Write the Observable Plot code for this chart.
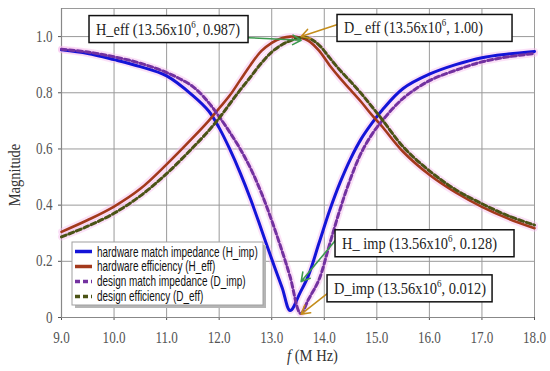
<!DOCTYPE html>
<html><head><meta charset="utf-8">
<script src="https://cdn.jsdelivr.net/npm/d3@7"></script>
<script src="https://cdn.jsdelivr.net/npm/@observablehq/plot@0.6"></script>
<style>
body{margin:0;background:#fff;}
#chart{position:relative;width:550px;height:371px;}
</style>
</head><body><div id="chart"></div>
<script>
// ---- data ----
const freq = [9.0, 9.5, 10.0, 10.5, 11.0, 11.5, 11.8, 12.0, 12.2, 12.4, 12.6, 12.8, 13.0, 13.2, 13.35, 13.55, 13.7, 13.9, 14.1, 14.3, 14.5, 14.7, 14.9, 15.1, 15.5, 16.0, 16.5, 17.0, 17.5, 18.0];
const hImp = [0.953, 0.940, 0.918, 0.893, 0.860, 0.790, 0.735, 0.675, 0.600, 0.515, 0.420, 0.315, 0.208, 0.105, 0.025, 0.092, 0.150, 0.265, 0.380, 0.480, 0.565, 0.635, 0.690, 0.738, 0.815, 0.866, 0.900, 0.925, 0.938, 0.947];
const hEff = [0.305, 0.347, 0.395, 0.458, 0.545, 0.640, 0.700, 0.745, 0.790, 0.845, 0.900, 0.948, 0.978, 0.995, 1.000, 0.996, 0.985, 0.950, 0.898, 0.852, 0.810, 0.768, 0.722, 0.680, 0.590, 0.508, 0.445, 0.394, 0.352, 0.318];
const dImp = [0.955, 0.945, 0.928, 0.905, 0.872, 0.822, 0.765, 0.715, 0.660, 0.600, 0.530, 0.445, 0.345, 0.235, 0.145, 0.014, 0.065, 0.135, 0.260, 0.385, 0.495, 0.585, 0.650, 0.700, 0.780, 0.843, 0.880, 0.910, 0.928, 0.940];
const dEff = [0.287, 0.325, 0.371, 0.433, 0.512, 0.605, 0.665, 0.710, 0.760, 0.810, 0.857, 0.905, 0.945, 0.972, 0.985, 0.997, 0.995, 0.970, 0.925, 0.880, 0.840, 0.798, 0.752, 0.705, 0.608, 0.522, 0.455, 0.405, 0.362, 0.329];

const seriesNames = ["hardware match impedance (H_imp)", "hardware efficiency (H_eff)", "design match impedance (D_imp)", "design efficiency (D_eff)"];
const xTicks = [9, 10, 11, 12, 13, 14, 15, 16, 17, 18];
const yTicks = [0, 0.2, 0.4, 0.6, 0.8, 1.0];

// annotations: label, value at 13.56 MHz
const annNames = ["H_eff", "D_ eff", "H_ imp", "D_imp"];
const annFreqText = "13.56x10";
const annExp = "6";
const annValues = ["0.987", "1.00", "0.128", "0.012"];
const annPointX = [13.56, 13.56, 13.56, 13.56];
const annPointY = [0.987, 1.00, 0.128, 0.012];

// ---- styles / layout (kept separate from data) ----
const styles = [
  {color: "#1414d8", dash: null, width: 3},
  {color: "#a3391c", dash: null, width: 2.6},
  {color: "#7331a0", dash: "5,3", width: 3},
  {color: "#4b5316", dash: "5,3", width: 3}
];
const annBox = [ // x1, x2, yCenter in data units; text width px
  {x1: 9.533, x2: 12.559, yc: 1.025, tw: 144},
  {x1: 14.252, x2: 17.582, yc: 1.029, tw: 139},
  {x1: 14.214, x2: 17.620, yc: 0.2625, tw: 155},
  {x1: 14.062, x2: 17.202, yc: 0.102, tw: 152}
];
const annTail = [[12.559, 0.996], [14.252, 1.043], [14.214, 0.275], [14.062, 0.086]];
const annColor = ["#3d9a4e", "#c48d1c", "#3d9a4e", "#c48d1c"];

const allValues = [hImp, hEff, dImp, dEff];
const data = allValues.flatMap((vals, k) => freq.map((f, i) => ({f, v: vals[i], k})));

const boxH = 0.096;
const boxes = annBox.map((b, i) => ({...b, i}));
const arrows = annTail.map((t, i) => ({x1: t[0], y1: t[1], x2: annPointX[i], y2: annPointY[i], c: annColor[i]}));

const marks = [
  Plot.ruleX(xTicks, {stroke: "#9a9a9a", strokeWidth: 1}),
  Plot.ruleY(yTicks.slice(1), {stroke: "#9a9a9a", strokeWidth: 1}),
  Plot.ruleY([1.1], {stroke: "#9a9a9a", strokeWidth: 1}),
  Plot.ruleX([9], {stroke: "#888", strokeWidth: 1.2}),
  Plot.ruleY([0], {stroke: "#888", strokeWidth: 1.2}),
];
// pink halo under lines
allValues.forEach((vals, k) => {
  marks.push(Plot.line(data.filter(d => d.k === k), {x: "f", y: "v", stroke: "#f6bdee", strokeWidth: 7, strokeOpacity: 0.45, curve: "catmull-rom"}));
});
allValues.forEach((vals, k) => {
  const s = styles[k];
  marks.push(Plot.line(data.filter(d => d.k === k), {x: "f", y: "v", stroke: s.color, strokeWidth: s.width, strokeDasharray: s.dash || undefined, curve: "catmull-rom"}));
});
marks.push(Plot.arrow(arrows, {x1: "x1", y1: "y1", x2: "x2", y2: "y2", stroke: "c", strokeWidth: 1.6, headLength: 9}));
marks.push(Plot.rect(boxes, {x1: "x1", x2: "x2", y1: d => d.yc - boxH/2, y2: d => d.yc + boxH/2, fill: "white", stroke: "#111", strokeWidth: 1.5}));

const plot = Plot.plot({
  width: 550, height: 371,
  marginLeft: 61, marginRight: 16, marginTop: 8, marginBottom: 54,
  style: {fontFamily: "Liberation Serif, serif", fontSize: "16px", color: "#555", background: "white"},
  x: {domain: [9, 18], ticks: xTicks, tickFormat: d => d.toFixed(1), tickSize: 3, tickPadding: 11, label: null},
  y: {domain: [0, 1.1], ticks: yTicks, tickFormat: d => d === 0 ? "0" : d.toFixed(1), tickSize: 3, tickPadding: 6, label: null},
  marks
});
document.getElementById("chart").appendChild(plot);

const svg = d3.select(plot);
// compress tick labels horizontally
svg.selectAll("text").each(function() {
  const w = this.getComputedTextLength();
  if (w > 0) { this.setAttribute("textLength", (w * 0.82).toFixed(2)); this.setAttribute("lengthAdjust", "spacingAndGlyphs"); }
});

const xs = plot.scale("x"), ys = plot.scale("y");
function fitGroup(g, x, y, target) {
  const w = g.node().getBBox().width;
  g.attr("transform", `translate(${x},${y}) scale(${target / w},1)`);
}

// annotation texts
boxes.forEach((b, i) => {
  const g = svg.append("g").attr("text-anchor", "start");
  const t = g.append("text").attr("font-family", "Liberation Serif, serif").attr("font-size", 16).attr("fill", "#222");
  t.append("tspan").text(`${annNames[i]} (${annFreqText}`);
  t.append("tspan").attr("font-size", 10).attr("dy", -7).text(annExp);
  t.append("tspan").attr("dy", 7).text(`, ${annValues[i]})`);
  fitGroup(g, xs.apply(b.x1) + 7, ys.apply(b.yc) + 5.5, b.tw);
});

// axis titles
const yl = svg.append("g");
yl.append("text").attr("font-family", "Liberation Serif, serif").attr("font-size", 16).attr("fill", "#333").attr("text-anchor", "middle").text("Magnitude");
yl.attr("transform", "translate(20,175) rotate(-90) scale(0.9,1)");
const xl = svg.append("g").attr("text-anchor", "start");
const xt = xl.append("text").attr("font-family", "Liberation Serif, serif").attr("font-size", 16).attr("fill", "#333");
xt.append("tspan").attr("font-style", "italic").text("f");
xt.append("tspan").text(" (M Hz)");
fitGroup(xl, 287, 361, 51);

// legend
const lg = svg.append("g").attr("text-anchor", "start");
lg.append("rect").attr("x", 75).attr("y", 245).attr("width", 191).attr("height", 63).attr("fill", "#b5b5b5");
lg.append("rect").attr("x", 72).attr("y", 242).attr("width", 191).attr("height", 63).attr("fill", "white").attr("stroke", "#a0a0a0").attr("stroke-width", 1);
const rowY = [251.5, 266.5, 281.5, 296.5];
const textG = lg.append("g");
seriesNames.forEach((n, k) => {
  const s = styles[k];
  lg.append("line").attr("x1", 75).attr("x2", 92).attr("y1", rowY[k]).attr("y2", rowY[k])
    .attr("stroke", s.color).attr("stroke-width", 3.5).attr("stroke-dasharray", s.dash ? "5,3" : null);
  textG.append("text").attr("x", 0).attr("y", rowY[k] - 246 + 5).attr("font-family", "Liberation Sans, Arial, sans-serif")
    .attr("font-size", 14).attr("fill", "#111").text(n);
});
fitGroup(textG, 97, 246, 161);
</script>
</body></html>
